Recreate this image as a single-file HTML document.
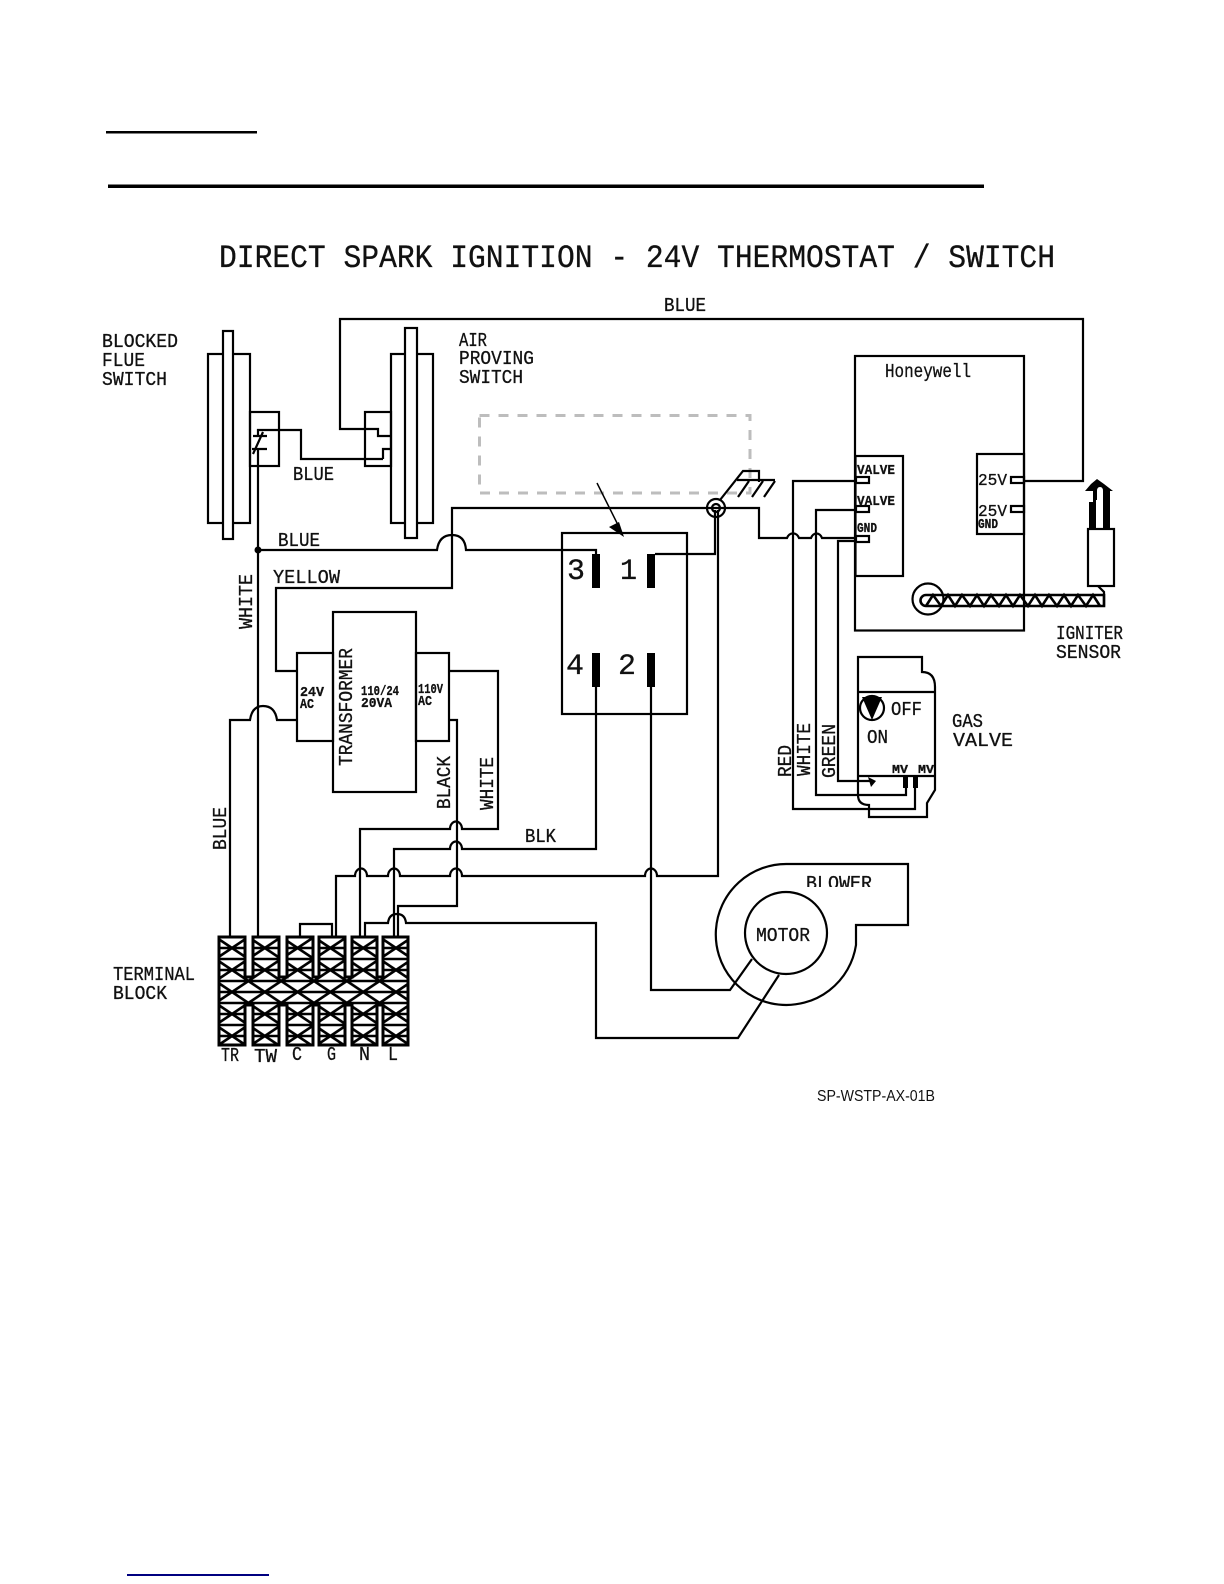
<!DOCTYPE html>
<html><head><meta charset="utf-8"><style>
html,body{margin:0;padding:0;background:#fff}
svg{display:block}
text{font-family:"Liberation Mono",monospace;fill:#111;stroke:#111;stroke-width:.3}
.b{font-weight:bold}
.w{fill:none;stroke:#000;stroke-width:2.200}
</style></head><body>
<svg width="1224" height="1584" viewBox="0 0 1224 1584" xmlns="http://www.w3.org/2000/svg">
<defs>
<pattern id="lat" x="215.600" y="937" width="32.8" height="22" patternUnits="userSpaceOnUse">
<path d="M0 0L32.8 22M32.8 0L0 22M0 11H32.8M0 22H32.8M0 0H32.8" fill="none" stroke="#000" stroke-width="2.600"/>
</pattern>
<clipPath id="blw"><rect x="790" y="870" width="100" height="17"/></clipPath>
</defs>
<rect width="1224" height="1584" fill="#fff"/>
<rect x="106" y="131" width="151" height="2.500" fill="#000"/>
<rect x="108" y="184.500" width="876" height="3.500" fill="#000"/>
<rect x="127" y="1574" width="142" height="2" fill="#000080"/>

<text x="219" y="267" font-size="32" textLength="836" lengthAdjust="spacingAndGlyphs">DIRECT SPARK IGNITION - 24V THERMOSTAT / SWITCH</text>

<!-- dashed -->
<rect x="479.500" y="415.500" width="270.500" height="77.500" fill="none" stroke="#bdbdbd" stroke-width="3" stroke-dasharray="10 9"/>

<g class="w">
<!-- blocked flue -->
<rect x="208" y="354" width="42" height="169"/>
<rect x="223" y="331" width="10" height="208" fill="#fff"/>
<rect x="250" y="412" width="29" height="54"/>
<!-- air proving -->
<rect x="391" y="354" width="42" height="169"/>
<rect x="405" y="328" width="12" height="210" fill="#fff"/>
<rect x="365" y="412" width="26" height="54"/>
<!-- switch wiring -->
<path d="M1024 481H1083V319H340V429H378V436H391"/>
<path d="M383 459V449H391M258 436V430H301V459H383"/>
<path d="M253 436H267M252 449H267M263 432L253 454"/>
<path d="M258 449V937"/>
<path d="M258 550H437Q439 535 452 535Q465 535 466 550H596V556"/>
<path d="M297 671H276V588H452V508H759V538H787A6.500 7.500 0 0 1 799 538H811A6 7.500 0 0 1 822 538H855"/>
<!-- relay -->
<rect x="562" y="533" width="125" height="181"/>
<path d="M655 554H715V510"/>
<path d="M596 687V849H462A6 7.500 0 0 0 450 849H394V937"/>
<path d="M651 687V990H730L752 959"/>
<path d="M336 937V876H355A6 7.500 0 0 1 367 876H388A6 7.500 0 0 1 400 876H450A6 7.500 0 0 1 462 876H645A6 7.500 0 0 1 657 876H718V510"/>
<path d="M360 937V829H450A6 7.500 0 0 1 462 829H498V671H449"/>
<path d="M449 720H457V906H398V937"/>
<path d="M365 937V923H388Q389 914 397 914Q405 914 406 923H596V1038H738L779 975"/>
<path d="M300 937V924H332V937"/>
<path d="M230 937V720H250Q252 706 263 706Q275 706 277 720H297"/>
<!-- transformer -->
<rect x="333" y="612" width="83" height="180"/>
<rect x="297" y="653" width="36" height="88"/>
<rect x="416" y="653" width="33" height="88"/>
<!-- ground -->
<circle cx="716" cy="508" r="9"/>
<circle cx="716" cy="508" r="4"/>
<path d="M720 500L743 471H759V482M737 480H775M749 481L738 497M763 481L752 497M775 481L764 497"/>
<!-- honeywell -->
<rect x="855" y="356" width="169" height="274.500"/>
<rect x="855.500" y="456" width="47.500" height="120"/>
<rect x="977" y="454" width="47" height="80"/>
<rect x="856" y="477" width="13" height="6"/>
<rect x="856" y="506" width="13" height="6"/>
<rect x="856" y="536" width="13" height="6"/>
<rect x="1011" y="477" width="13" height="6"/>
<rect x="1011" y="506" width="13" height="6"/>
<!-- valve wires -->
<path d="M855 481H793V809H915V777"/>
<path d="M855 510H816V795H906V777"/>
<path d="M855 541H838V781H871"/>
<!-- gas valve -->
<path d="M858 657H922V672Q935 672 935 687V790L927 803V817H869V805Q858 805 858 795Z"/>
<path d="M858 692H935M858 776H935"/>
<circle cx="872" cy="708" r="12"/>
<!-- blower -->
<path d="M788 864H908V925H856V945A70.500 70.500 0 1 1 788 864Z"/>
<circle cx="786" cy="933" r="41"/>
<!-- igniter -->
<rect x="1088" y="529" width="26" height="57"/>
<path d="M1098 586L1104 592V606" />
<circle cx="928" cy="599" r="15.500"/>
<path d="M926 595H1104V606H926A5.500 5.500 0 0 1 926 595Z" stroke-width="2.600"/>
<path d="M926 606L933 595L941 606L948 595L955 606L962 595L970 606L977 595L984 606L991 595L999 606L1006 595L1013 606L1020 595L1028 606L1035 595L1042 606L1049 595L1057 606L1064 595L1071 606L1078 595L1086 606L1093 595L1100 606" stroke-width="2.600"/>
</g>

<circle cx="258" cy="550" r="3.500" fill="#000"/>
<path d="M597 483L622 533" fill="none" stroke="#000" stroke-width="1.500"/>
<path d="M624 537L609 527L619 522Z" fill="#000"/>
<!-- relay bars -->
<rect x="592" y="554" width="8" height="34" fill="#000"/>
<rect x="647" y="554" width="8" height="34" fill="#000"/>
<rect x="592" y="653" width="8" height="34" fill="#000"/>
<rect x="647" y="653" width="8" height="34" fill="#000"/>
<!-- gas valve fill -->
<path d="M862 697H882L872 720Z" fill="#000"/>
<path d="M868 777L876 781L871 787Z" fill="#000"/>
<rect x="903" y="775" width="5" height="13" fill="#000"/>
<rect x="913" y="775" width="5" height="13" fill="#000"/>
<!-- igniter tip -->
<path d="M1089 529V502H1093V491H1085L1091 484L1097 479L1104 484L1113 491H1110V529H1103V491Q1103 487 1100 487Q1097 487 1097 491V500H1096V529Z" fill="#000"/>

<!-- terminal block -->
<path d="M219 937H245V977H253V937H279V977H287V937H313V977H319V937H345V977H352V937H377V977H383V937H408V1045H383V1005H377V1045H352V1005H345V1045H319V1005H313V1045H287V1005H279V1045H253V1005H245V1045H219Z" fill="url(#lat)" stroke="#000" stroke-width="3"/>

<!-- labels -->
<g font-size="19">
<text x="102" y="347" textLength="76" lengthAdjust="spacingAndGlyphs">BLOCKED</text>
<text x="102" y="366" textLength="43" lengthAdjust="spacingAndGlyphs">FLUE</text>
<text x="102" y="385" textLength="65" lengthAdjust="spacingAndGlyphs">SWITCH</text>
<text x="459" y="346" textLength="28" lengthAdjust="spacingAndGlyphs">AIR</text>
<text x="459" y="364" textLength="75" lengthAdjust="spacingAndGlyphs">PROVING</text>
<text x="459" y="383" textLength="64" lengthAdjust="spacingAndGlyphs">SWITCH</text>
<text x="293" y="480" textLength="41" lengthAdjust="spacingAndGlyphs">BLUE</text>
<text x="278" y="546" textLength="42" lengthAdjust="spacingAndGlyphs">BLUE</text>
<text x="273" y="583" textLength="67" lengthAdjust="spacingAndGlyphs">YELLOW</text>
<text x="664" y="311" textLength="42" lengthAdjust="spacingAndGlyphs">BLUE</text>
<text x="525" y="842" textLength="31" lengthAdjust="spacingAndGlyphs">BLK</text>
<text x="113" y="980" textLength="82" lengthAdjust="spacingAndGlyphs">TERMINAL</text>
<text x="113" y="999" textLength="54" lengthAdjust="spacingAndGlyphs">BLOCK</text>
<text x="221" y="1061" textLength="18" lengthAdjust="spacingAndGlyphs">TR</text>
<text x="254" y="1062" textLength="23" lengthAdjust="spacingAndGlyphs">TW</text>
<text x="292" y="1060" textLength="10" lengthAdjust="spacingAndGlyphs">C</text>
<text x="327" y="1060" textLength="9" lengthAdjust="spacingAndGlyphs">G</text>
<text x="359" y="1060" textLength="11" lengthAdjust="spacingAndGlyphs">N</text>
<text x="388" y="1060" textLength="10" lengthAdjust="spacingAndGlyphs">L</text>
<text x="952" y="727" textLength="31" lengthAdjust="spacingAndGlyphs">GAS</text>
<text x="953" y="746" textLength="60" lengthAdjust="spacingAndGlyphs">VALVE</text>
<text x="1056" y="639" textLength="67" lengthAdjust="spacingAndGlyphs">IGNITER</text>
<text x="1056" y="658" textLength="65" lengthAdjust="spacingAndGlyphs">SENSOR</text>
<text x="756" y="941" textLength="54" lengthAdjust="spacingAndGlyphs">MOTOR</text>
<text x="891" y="715" textLength="31" lengthAdjust="spacingAndGlyphs">OFF</text>
<text x="867" y="743" textLength="21" lengthAdjust="spacingAndGlyphs">ON</text>
<text x="806" y="889" textLength="66" lengthAdjust="spacingAndGlyphs" clip-path="url(#blw)">BLOWER</text>
<text transform="translate(252 629) rotate(-90)" textLength="55" lengthAdjust="spacingAndGlyphs">WHITE</text>
<text transform="translate(226 850) rotate(-90)" textLength="43" lengthAdjust="spacingAndGlyphs">BLUE</text>
<text transform="translate(352 766) rotate(-90)" textLength="118" lengthAdjust="spacingAndGlyphs">TRANSFORMER</text>
<text transform="translate(450 809) rotate(-90)" textLength="53" lengthAdjust="spacingAndGlyphs">BLACK</text>
<text transform="translate(493 810) rotate(-90)" textLength="53" lengthAdjust="spacingAndGlyphs">WHITE</text>
<text transform="translate(791 777) rotate(-90)" textLength="32" lengthAdjust="spacingAndGlyphs">RED</text>
<text transform="translate(810 776) rotate(-90)" textLength="53" lengthAdjust="spacingAndGlyphs">WHITE</text>
<text transform="translate(835 778) rotate(-90)" textLength="54" lengthAdjust="spacingAndGlyphs">GREEN</text>
<text x="885" y="377" textLength="86" lengthAdjust="spacingAndGlyphs">Honeywell</text>
</g>
<g font-size="14" class="b">
<text class="b" x="361" y="695" textLength="38" lengthAdjust="spacingAndGlyphs">110/24</text>
<text class="b" x="361" y="707" textLength="31" lengthAdjust="spacingAndGlyphs">20VA</text>
<text class="b" x="300" y="696" textLength="24" lengthAdjust="spacingAndGlyphs">24V</text>
<text class="b" x="300" y="708" textLength="14" lengthAdjust="spacingAndGlyphs">AC</text>
<text class="b" x="418" y="693" textLength="25" lengthAdjust="spacingAndGlyphs">110V</text>
<text class="b" x="418" y="705" textLength="14" lengthAdjust="spacingAndGlyphs">AC</text>
<text x="857" y="474" textLength="38" lengthAdjust="spacingAndGlyphs">VALVE</text>
<text x="857" y="505" textLength="38" lengthAdjust="spacingAndGlyphs">VALVE</text>
<text x="857" y="532" textLength="20" lengthAdjust="spacingAndGlyphs">GND</text>
<text x="978" y="528" textLength="20" lengthAdjust="spacingAndGlyphs">GND</text>
<text x="892" y="773" textLength="16" lengthAdjust="spacingAndGlyphs" font-size="12">MV</text>
<text x="918" y="773" textLength="16" lengthAdjust="spacingAndGlyphs" font-size="12">MV</text>
</g>
<g font-size="17">
<text x="978" y="485" textLength="29" lengthAdjust="spacingAndGlyphs">25V</text>
<text x="978" y="516" textLength="29" lengthAdjust="spacingAndGlyphs">25V</text>
</g>
<g font-size="30">
<text x="567" y="579" textLength="18" lengthAdjust="spacingAndGlyphs">3</text>
<text x="620" y="579" textLength="17" lengthAdjust="spacingAndGlyphs">1</text>
<text x="566" y="674" textLength="18" lengthAdjust="spacingAndGlyphs">4</text>
<text x="618" y="674" textLength="18" lengthAdjust="spacingAndGlyphs">2</text>
</g>
<text x="817" y="1101" font-size="16" textLength="118" lengthAdjust="spacingAndGlyphs" style="font-family:'Liberation Sans',sans-serif;stroke:none">SP-WSTP-AX-01B</text>
</svg>
</body></html>
